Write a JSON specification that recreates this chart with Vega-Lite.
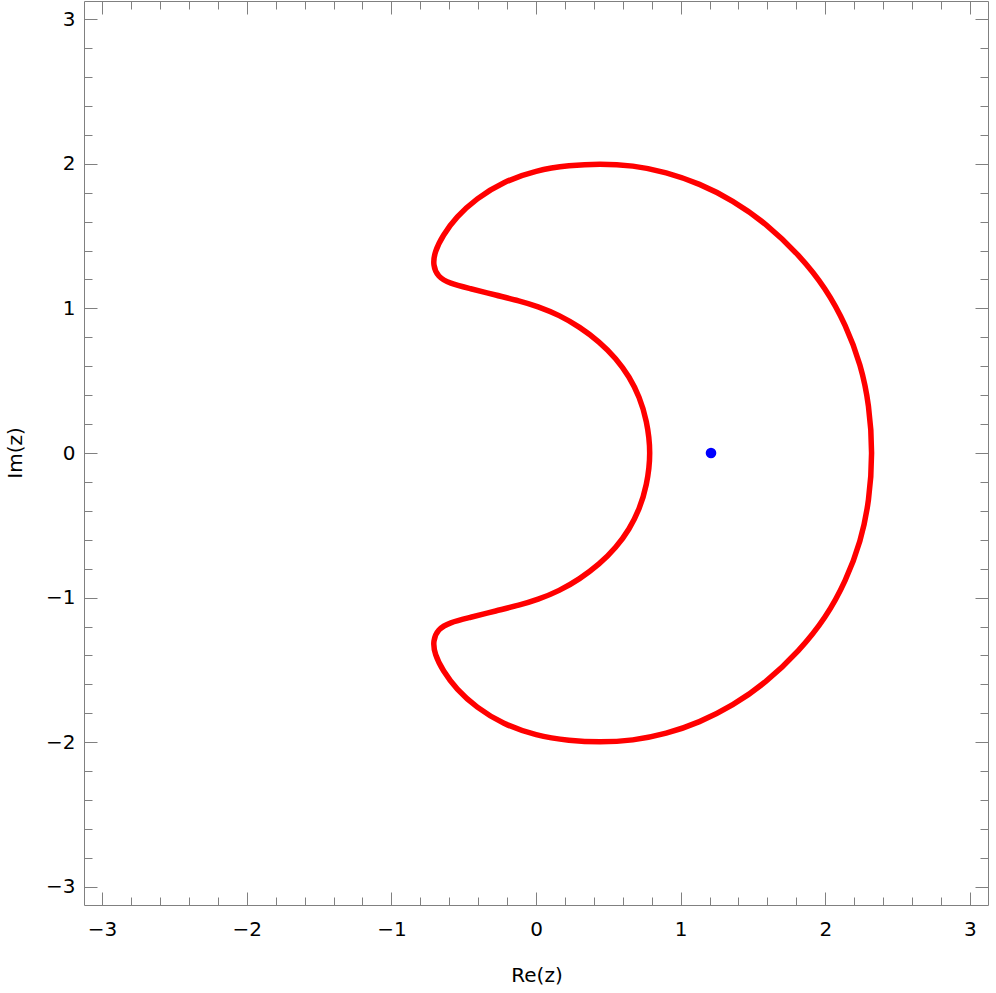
{
  "$schema": "https://vega.github.io/schema/vega-lite/v6.json",
  "width": 904,
  "height": 904,
  "autosize": {"type": "none"},
  "padding": {"left": 84, "top": 1, "right": 8, "bottom": 88},
  "background": "white",
  "config": {
    "view": {"stroke": null},
    "axis": {
      "grid": false,
      "domainColor": "#808080",
      "domainWidth": 1,
      "tickColor": "#808080",
      "tickWidth": 1,
      "labelFont": "DejaVu Sans",
      "labelFontSize": 20,
      "labelColor": "black",
      "labelFlush": false,
      "labelOverlap": false,
      "titleFont": "DejaVu Sans",
      "titleFontSize": 20,
      "titleFontWeight": "normal",
      "titleColor": "black"
    }
  },
  "datasets": {
    "curve": [
      {"i": 0, "x": 2.328, "y": 0},
      {"i": 1, "x": 2.304, "y": 0.332},
      {"i": 2, "x": 2.247, "y": 0.608},
      {"i": 3, "x": 2.143, "y": 0.884},
      {"i": 4, "x": 2.005, "y": 1.138},
      {"i": 5, "x": 1.821, "y": 1.368},
      {"i": 6, "x": 1.591, "y": 1.587},
      {"i": 7, "x": 1.36, "y": 1.748},
      {"i": 8, "x": 1.13, "y": 1.863},
      {"i": 9, "x": 0.9, "y": 1.943},
      {"i": 10, "x": 0.669, "y": 1.989},
      {"i": 11, "x": 0.439, "y": 2.001},
      {"i": 12, "x": 0.231, "y": 1.989},
      {"i": 13, "x": 0.001, "y": 1.955},
      {"i": 14, "x": -0.229, "y": 1.874},
      {"i": 15, "x": -0.413, "y": 1.759},
      {"i": 16, "x": -0.551, "y": 1.632},
      {"i": 17, "x": -0.644, "y": 1.506},
      {"i": 18, "x": -0.701, "y": 1.39},
      {"i": 19, "x": -0.713, "y": 1.299},
      {"i": 20, "x": -0.679, "y": 1.218},
      {"i": 21, "x": -0.598, "y": 1.172},
      {"i": 22, "x": -0.459, "y": 1.138},
      {"i": 23, "x": -0.275, "y": 1.091},
      {"i": 24, "x": -0.114, "y": 1.052},
      {"i": 25, "x": 0.01, "y": 1.015},
      {"i": 26, "x": 0.162, "y": 0.953},
      {"i": 27, "x": 0.301, "y": 0.872},
      {"i": 28, "x": 0.439, "y": 0.769},
      {"i": 29, "x": 0.554, "y": 0.654},
      {"i": 30, "x": 0.646, "y": 0.527},
      {"i": 31, "x": 0.715, "y": 0.389},
      {"i": 32, "x": 0.766, "y": 0.228},
      {"i": 33, "x": 0.796, "y": 0},
      {"i": 34, "x": 0.766, "y": -0.228},
      {"i": 35, "x": 0.715, "y": -0.389},
      {"i": 36, "x": 0.646, "y": -0.527},
      {"i": 37, "x": 0.554, "y": -0.654},
      {"i": 38, "x": 0.439, "y": -0.769},
      {"i": 39, "x": 0.301, "y": -0.872},
      {"i": 40, "x": 0.162, "y": -0.953},
      {"i": 41, "x": 0.01, "y": -1.015},
      {"i": 42, "x": -0.114, "y": -1.052},
      {"i": 43, "x": -0.275, "y": -1.091},
      {"i": 44, "x": -0.459, "y": -1.138},
      {"i": 45, "x": -0.598, "y": -1.172},
      {"i": 46, "x": -0.679, "y": -1.218},
      {"i": 47, "x": -0.713, "y": -1.299},
      {"i": 48, "x": -0.701, "y": -1.39},
      {"i": 49, "x": -0.644, "y": -1.506},
      {"i": 50, "x": -0.551, "y": -1.632},
      {"i": 51, "x": -0.413, "y": -1.759},
      {"i": 52, "x": -0.229, "y": -1.874},
      {"i": 53, "x": 0.001, "y": -1.955},
      {"i": 54, "x": 0.231, "y": -1.989},
      {"i": 55, "x": 0.439, "y": -2.001},
      {"i": 56, "x": 0.669, "y": -1.989},
      {"i": 57, "x": 0.9, "y": -1.943},
      {"i": 58, "x": 1.13, "y": -1.863},
      {"i": 59, "x": 1.36, "y": -1.748},
      {"i": 60, "x": 1.591, "y": -1.587},
      {"i": 61, "x": 1.821, "y": -1.368},
      {"i": 62, "x": 2.005, "y": -1.138},
      {"i": 63, "x": 2.143, "y": -0.884},
      {"i": 64, "x": 2.247, "y": -0.608},
      {"i": 65, "x": 2.304, "y": -0.332}
    ],
    "pole": [{"x": 1.21, "y": 0}]
  },
  "layer": [
    {
      "data": {"name": "curve"},
      "mark": {"type": "line", "color": "#ff0000", "strokeWidth": 5.5, "interpolate": "basis-closed", "strokeJoin": "round"},
      "encoding": {
        "x": {
          "field": "x", "type": "quantitative",
          "scale": {"domain": [-3.125, 3.125], "nice": false, "zero": false},
          "axis": {
            "orient": "bottom",
            "values": [-3, -2, -1, 0, 1, 2, 3],
            "format": "d",
            "tickSize": -13,
            "labelPadding": 27.5,
            "labelOverlap": false,
            "title": "Re(z)",
            "titleX": 452.5,
            "titleY": 70.5,
            "titleAlign": "center",
            "titleBaseline": "middle",
            "titleAngle": 0
          }
        },
        "y": {
          "field": "y", "type": "quantitative",
          "scale": {"domain": [-3.125, 3.125], "nice": false, "zero": false},
          "axis": {
            "orient": "left",
            "values": [-3, -2, -1, 0, 1, 2, 3],
            "format": "d",
            "tickSize": -13,
            "labelPadding": 22,
            "labelOverlap": false,
            "title": "Im(z)",
            "titleX": -68.3,
            "titleY": 451.5,
            "titleAlign": "center",
            "titleBaseline": "middle",
            "titleAngle": -90
          }
        },
        "order": {"field": "i", "type": "quantitative"}
      }
    },
    {
      "data": {"name": "pole"},
      "mark": {"type": "circle", "color": "#0000ff", "size": 113, "opacity": 1},
      "encoding": {
        "x": {
          "field": "x", "type": "quantitative",
          "scale": {"domain": [-3.125, 3.125], "nice": false, "zero": false},
          "axis": {"orient": "top", "values": [-3, -2, -1, 0, 1, 2, 3], "tickSize": -13, "labels": false, "title": null}
        },
        "y": {
          "field": "y", "type": "quantitative",
          "scale": {"domain": [-3.125, 3.125], "nice": false, "zero": false},
          "axis": {"orient": "right", "values": [-3, -2, -1, 0, 1, 2, 3], "tickSize": -13, "labels": false, "title": null}
        }
      }
    },
    {
      "data": {"name": "pole"},
      "mark": {"type": "circle", "opacity": 0, "size": 1},
      "encoding": {
        "x": {
          "field": "x", "type": "quantitative",
          "scale": {"domain": [-3.125, 3.125], "nice": false, "zero": false},
          "axis": {"orient": "bottom", "values": [-2.8,-2.6,-2.4,-2.2,-1.8,-1.6,-1.4,-1.2,-0.8,-0.6,-0.4,-0.2,0.2,0.4,0.6,0.8,1.2,1.4,1.6,1.8,2.2,2.4,2.6,2.8], "tickSize": -8, "labels": false, "domain": false, "title": null}
        },
        "y": {
          "field": "y", "type": "quantitative",
          "scale": {"domain": [-3.125, 3.125], "nice": false, "zero": false},
          "axis": {"orient": "left", "values": [-2.8,-2.6,-2.4,-2.2,-1.8,-1.6,-1.4,-1.2,-0.8,-0.6,-0.4,-0.2,0.2,0.4,0.6,0.8,1.2,1.4,1.6,1.8,2.2,2.4,2.6,2.8], "tickSize": -8, "labels": false, "domain": false, "title": null}
        }
      }
    },
    {
      "data": {"name": "pole"},
      "mark": {"type": "circle", "opacity": 0, "size": 1},
      "encoding": {
        "x": {
          "field": "x", "type": "quantitative",
          "scale": {"domain": [-3.125, 3.125], "nice": false, "zero": false},
          "axis": {"orient": "top", "values": [-2.8,-2.6,-2.4,-2.2,-1.8,-1.6,-1.4,-1.2,-0.8,-0.6,-0.4,-0.2,0.2,0.4,0.6,0.8,1.2,1.4,1.6,1.8,2.2,2.4,2.6,2.8], "tickSize": -8, "labels": false, "domain": false, "title": null}
        },
        "y": {
          "field": "y", "type": "quantitative",
          "scale": {"domain": [-3.125, 3.125], "nice": false, "zero": false},
          "axis": {"orient": "right", "values": [-2.8,-2.6,-2.4,-2.2,-1.8,-1.6,-1.4,-1.2,-0.8,-0.6,-0.4,-0.2,0.2,0.4,0.6,0.8,1.2,1.4,1.6,1.8,2.2,2.4,2.6,2.8], "tickSize": -8, "labels": false, "domain": false, "title": null}
        }
      }
    }
  ],
  "resolve": {"axis": {"x": "independent", "y": "independent"}}
}
